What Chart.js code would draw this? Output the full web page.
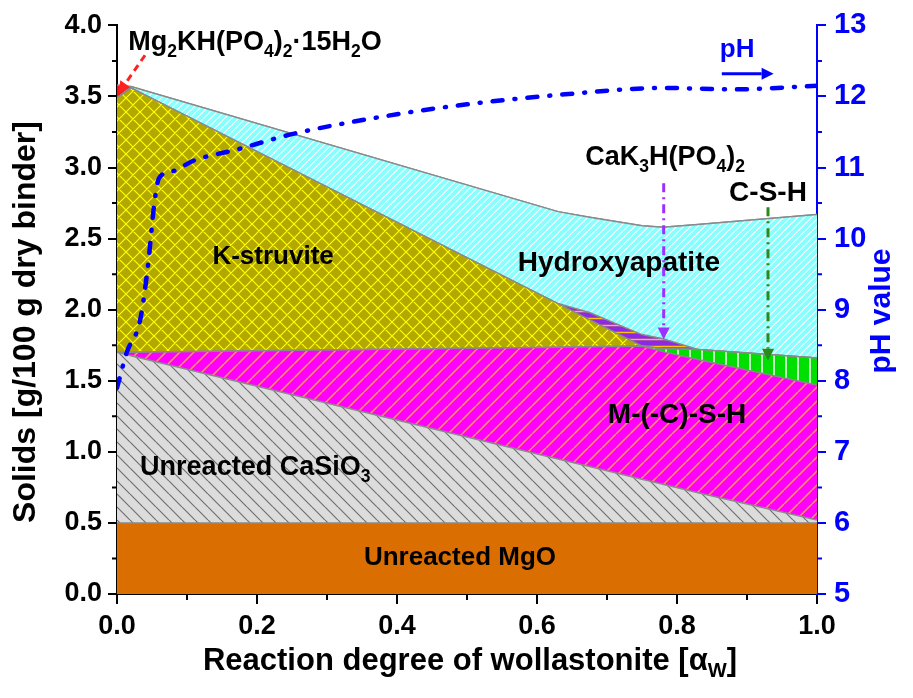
<!DOCTYPE html>
<html>
<head>
<meta charset="utf-8">
<script src="https://cdn.jsdelivr.net/npm/chart.js@4.4.0/dist/chart.umd.min.js"></script>
<style>
  html, body { margin: 0; padding: 0; background: #fff; }
  canvas { display: block; }
</style>
</head>
<body>
<canvas id="c" width="913" height="698"></canvas>
<script>
// reaction degree of wollastonite (shared x grid for the stacked phases)
var alphaW = [0, 0.02, 0.63, 0.675, 0.75, 0.78, 0.83, 1.0];
// phase amounts, g/100 g dry binder (layer thickness)
var mgo       = [0.5, 0.5, 0.5, 0.5, 0.5, 0.5, 0.5, 0.5];
var casio3    = [1.20, 1.176, 0.45, 0.397, 0.307, 0.272, 0.212, 0.02];
var mcsh      = [0, 0.024, 0.785, 0.843, 0.938, 0.933, 0.938, 0.95];
var csh       = [0, 0, 0, 0, 0, 0.02, 0.07, 0.19];
var kstruvite = [1.79, 1.86, 0.308, 0.19, 0, 0, 0, 0];
var cak3      = [0, 0, 0, 0.05, 0.08, 0.07, 0, 0];
var hap       = [0, 0.01, 0.647, 0.67, 0.765, 0.785, 0.88, 1.01];
var mg2kh     = [0.09, 0, 0, 0, 0, 0, 0, 0];
// pH curve
var phX = [0, 0.014, 0.033, 0.044, 0.054, 0.06, 0.08, 0.11, 0.17, 0.25, 0.4, 0.5, 0.64, 0.78, 0.88, 1.0];
var phY = [7.9, 8.4, 8.85, 9.6, 10.55, 10.85, 10.95, 11.1, 11.25, 11.47, 11.75, 11.89, 12.03, 12.12, 12.1, 12.15];

var FONT = "'Liberation Sans', Arial, sans-serif";
var BLUE = '#0000ff';

function hatch(bg, fg, kind, s, lw) {
  var c = document.createElement('canvas');
  c.width = s; c.height = s;
  var g = c.getContext('2d');
  g.fillStyle = bg;
  g.fillRect(0, 0, s, s);
  g.strokeStyle = fg;
  g.lineWidth = lw;
  g.beginPath();
  if (kind.indexOf('/') >= 0) {
    [-s, 0, s].forEach(function(k) { g.moveTo(k, s); g.lineTo(k + s, 0); });
  }
  if (kind.indexOf('\\') >= 0) {
    [-s, 0, s].forEach(function(k) { g.moveTo(k, 0); g.lineTo(k + s, s); });
  }
  if (kind.indexOf('|') >= 0) { g.moveTo(s / 2, 0); g.lineTo(s / 2, s); }
  if (kind.indexOf('-') >= 0) { g.moveTo(0, s / 2); g.lineTo(s, s / 2); }
  g.stroke();
  return g.createPattern(c, 'repeat');
}

function pts(arr) {
  return arr.map(function(v, i) { return { x: alphaW[i], y: v }; });
}

function layer(label, arr, fill, first) {
  return {
    label: label,
    data: pts(arr),
    yAxisID: 'y',
    order: 1,
    fill: first ? 'origin' : '-1',
    backgroundColor: fill,
    borderColor: '#8a8a8a',
    borderWidth: 1.5,
    pointRadius: 0,
    tension: 0
  };
}

// sub/superscript text helper
function rich(ctx, parts, x, y, size, align, color) {
  var w = 0;
  parts.forEach(function(p) {
    ctx.font = 'bold ' + (p[1] ? size * 0.65 : size) + 'px ' + FONT;
    w += ctx.measureText(p[0]).width;
  });
  var cx = align === 'center' ? x - w / 2 : x;
  ctx.fillStyle = color || '#000';
  ctx.textBaseline = 'middle';
  ctx.textAlign = 'left';
  parts.forEach(function(p) {
    ctx.font = 'bold ' + (p[1] ? size * 0.65 : size) + 'px ' + FONT;
    ctx.fillText(p[0], cx, p[1] ? y + size * 0.35 : y);
    cx += ctx.measureText(p[0]).width;
  });
}

function arrow(ctx, x1, y1, x2, y2, color, dash, lw, head) {
  ctx.save();
  ctx.strokeStyle = color;
  ctx.fillStyle = color;
  ctx.lineWidth = lw;
  ctx.setLineDash(dash);
  var a = Math.atan2(y2 - y1, x2 - x1);
  ctx.beginPath();
  ctx.moveTo(x1, y1);
  ctx.lineTo(x2 - Math.cos(a) * head, y2 - Math.sin(a) * head);
  ctx.stroke();
  ctx.setLineDash([]);
  ctx.beginPath();
  ctx.moveTo(x2, y2);
  ctx.lineTo(x2 - Math.cos(a) * head - Math.sin(a) * head * 0.5, y2 - Math.sin(a) * head + Math.cos(a) * head * 0.5);
  ctx.lineTo(x2 - Math.cos(a) * head + Math.sin(a) * head * 0.5, y2 - Math.sin(a) * head - Math.cos(a) * head * 0.5);
  ctx.closePath();
  ctx.fill();
  ctx.restore();
}

var extras = {
  id: 'extras',
  afterDraw: function(chart) {
    var ctx = chart.ctx;
    var sx = chart.scales.x, sy = chart.scales.y, sp = chart.scales.y2;
    var X = function(v) { return sx.getPixelForValue(v); };
    var Y = function(v) { return sy.getPixelForValue(v); };
    var P = function(v) { return sp.getPixelForValue(v); };
    var ca = chart.chartArea;
    ctx.save();

    // minor ticks
    ctx.lineWidth = 2;
    ctx.strokeStyle = '#000';
    ctx.beginPath();
    for (var v = 0.25; v < 4; v += 0.5) { ctx.moveTo(ca.left, Y(v)); ctx.lineTo(ca.left - 5, Y(v)); }
    for (var u = 0.1; u < 1; u += 0.2) { ctx.moveTo(X(u), ca.bottom); ctx.lineTo(X(u), ca.bottom + 6); }
    ctx.stroke();
    ctx.strokeStyle = BLUE;
    ctx.beginPath();
    for (var p = 5.5; p < 13; p += 1) { ctx.moveTo(ca.right, P(p)); ctx.lineTo(ca.right + 5, P(p)); }
    ctx.stroke();

    // axis titles
    ctx.save();
    ctx.translate(26, 322);
    ctx.rotate(-Math.PI / 2);
    rich(ctx, [['Solids [g/100 g dry binder]']], 0, 0, 32, 'center');
    ctx.restore();
    ctx.save();
    ctx.translate(882, 311);
    ctx.rotate(-Math.PI / 2);
    rich(ctx, [['pH value']], 0, 0, 30, 'center', BLUE);
    ctx.restore();
    rich(ctx, [['Reaction degree of wollastonite [\u03b1'], ['W', 1], [']']], (ca.left + ca.right) / 2 + 3, 661, 31, 'center');

    // phase labels
    rich(ctx, [['Mg'], ['2', 1], ['KH(PO'], ['4', 1], [')'], ['2', 1], ['\u00b715H'], ['2', 1], ['O']], X(0.016), Y(3.88), 27, 'left');
    rich(ctx, [['K-struvite']], X(0.223), Y(2.37), 26, 'center');
    rich(ctx, [['Hydroxyapatite']], X(0.717), Y(2.33), 28, 'center');
    rich(ctx, [['CaK'], ['3', 1], ['H(PO'], ['4', 1], [')'], ['2', 1]], X(0.669), Y(3.07), 27, 'left');
    rich(ctx, [['C-S-H']], X(0.93), Y(2.82), 28, 'center');
    rich(ctx, [['M-(-C)-S-H']], X(0.80), Y(1.26), 28, 'center');
    rich(ctx, [['Unreacted CaSiO'], ['3', 1]], X(0.033), Y(0.89), 27, 'left');
    rich(ctx, [['Unreacted MgO']], X(0.49), Y(0.257), 26, 'center');
    rich(ctx, [['pH']], X(0.886), P(12.65), 26, 'center', BLUE);

    // arrows
    arrow(ctx, X(0.864), P(12.32), X(0.938), P(12.32), BLUE, [], 3, 12);
    arrow(ctx, X(0.04), Y(3.79), X(0.002), Y(3.52), '#ff2020', [7, 5], 3, 12);
    arrow(ctx, X(0.781), Y(2.89), X(0.781), Y(1.79), '#9b30ff', [9, 5, 2, 5], 3, 12);
    arrow(ctx, X(0.93), Y(2.72), X(0.93), Y(1.64), '#2a8a1a', [9, 5, 2, 5], 3, 12);
    ctx.restore();
  }
};

var tickFont = { family: FONT, size: 27, weight: 'bold' };

new Chart(document.getElementById('c'), {
  type: 'line',
  data: {
    datasets: [
      layer('Unreacted MgO', mgo, '#db6e00', true),
      layer('Unreacted CaSiO3', casio3, hatch('#dcdcdc', '#707070', '\\', 13, 1.2)),
      layer('M-(-C)-S-H', mcsh, hatch('#ff00ff', '#ffa040', '/', 14, 1.5)),
      layer('C-S-H', csh, hatch('#00e000', '#ffffff', '|', 12, 1.5)),
      layer('K-struvite', kstruvite, hatch('#b3a800', '#ffff00', '/\\', 14, 1.2)),
      layer('CaK3H(PO4)2', cak3, hatch('#8c28e6', '#ffc000', '-', 7, 1.5)),
      layer('Hydroxyapatite', hap, hatch('#88ffff', '#ffffff', '/', 7, 1.2)),
      layer('Mg2KH(PO4)2.15H2O', mg2kh, '#ff1010'),
      {
        label: 'pH',
        data: phX.map(function(x, i) { return { x: x, y: phY[i] }; }),
        yAxisID: 'y2',
        order: 0,
        fill: false,
        borderColor: BLUE,
        borderWidth: 4.5,
        borderDash: [10, 12, 1, 12],
        borderCapStyle: 'round',
        pointRadius: 0,
        cubicInterpolationMode: 'monotone'
      }
    ]
  },
  options: {
    responsive: false,
    animation: false,
    devicePixelRatio: 1,
    layout: { padding: { top: 18, left: 0, right: 0, bottom: 0 } },
    plugins: { legend: { display: false }, tooltip: { enabled: false } },
    scales: {
      x: {
        type: 'linear', min: 0, max: 1,
        ticks: { stepSize: 0.2, color: '#000', font: tickFont, padding: 6,
          callback: function(v) { return v.toFixed(1); } },
        grid: { drawOnChartArea: false, tickLength: 10, color: '#000', lineWidth: 2 },
        border: { color: '#000', width: 2 },
        afterFit: function(s) { s.height = 104; }
      },
      y: {
        stacked: true, min: 0, max: 4, position: 'left',
        ticks: { stepSize: 0.5, color: '#000', font: tickFont, padding: 6,
          callback: function(v) { return v.toFixed(1); } },
        grid: { drawOnChartArea: false, tickLength: 9, color: '#000', lineWidth: 2 },
        border: { color: '#000', width: 2 },
        afterFit: function(s) { s.width = 117; }
      },
      y2: {
        min: 5, max: 13, position: 'right',
        ticks: { stepSize: 1, color: BLUE, font: { family: FONT, size: 29, weight: 'bold' }, padding: 8 },
        grid: { drawOnChartArea: false, tickLength: 9, color: BLUE, lineWidth: 2 },
        border: { color: BLUE, width: 2 },
        afterFit: function(s) { s.width = 96; }
      }
    }
  },
  plugins: [extras]
});
</script>
</body>
</html>
